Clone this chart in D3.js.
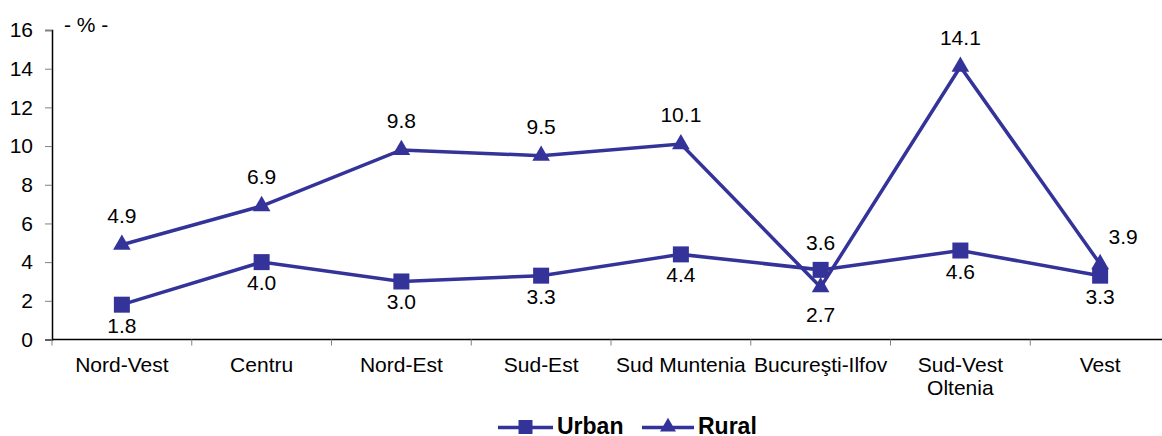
<!DOCTYPE html>
<html><head><meta charset="utf-8">
<script src="https://cdn.jsdelivr.net/npm/d3@7"></script>
<style>body{margin:0;background:#fff}svg{display:block;font-family:Arial,"Liberation Sans",sans-serif}</style>
</head><body>
<svg id="c" width="1162" height="436"></svg>
<script>
const categories = [["Nord-Vest"],["Centru"],["Nord-Est"],["Sud-Est"],["Sud Muntenia"],["Bucureşti-Ilfov"],["Sud-Vest","Oltenia"],["Vest"]];
const urban = [1.8, 4.0, 3.0, 3.3, 4.4, 3.6, 4.6, 3.3];
const rural = [4.9, 6.9, 9.8, 9.5, 10.1, 2.7, 14.1, 3.9];
const yTicks = [0,2,4,6,8,10,12,14,16];
const seriesNames = ["Urban","Rural"];
const color = "#333399";
const FS = 21;

const svg = d3.select("#c");
const x = d3.scaleBand().domain(d3.range(categories.length)).range([52, 1170]);
const y = d3.scaleLinear().domain([0,16]).range([339.5, 30]);

// y axis
const yAxis = svg.append("g").attr("transform","translate(52,0)")
  .call(d3.axisLeft(y).tickValues(yTicks).tickSize(7).tickPadding(12));
yAxis.select(".domain").attr("stroke","#000").attr("stroke-width",1.5);
yAxis.selectAll(".tick line").attr("stroke","#808080");
yAxis.selectAll(".tick text").attr("font-size",FS).attr("fill","#000").attr("font-family","Arial, 'Liberation Sans', sans-serif");

// x axis
const xg = svg.append("g");
xg.append("line").attr("x1",52).attr("x2",1170).attr("y1",y(0)).attr("y2",y(0)).attr("stroke","#000").attr("stroke-width",1.5);
d3.range(categories.length+1).forEach(i=>{
  const xx = 52 + i*x.bandwidth();
  xg.append("line").attr("x1",xx).attr("x2",xx).attr("y1",y(0)).attr("y2",y(0)+6).attr("stroke","#808080");
});
categories.forEach((c,i)=>{
  const t = xg.append("text").attr("x",x(i)+x.bandwidth()/2).attr("y",y(0)+32.5)
    .attr("text-anchor","middle").attr("font-size",FS).attr("fill","#000");
  c.forEach((s,j)=>t.append("tspan").attr("x",x(i)+x.bandwidth()/2).attr("dy",j?23:0).text(s));
});

svg.append("text").attr("x",64).attr("y",32).attr("font-size",FS).text("- % -");

const cx = i => x(i)+x.bandwidth()/2;
const line = d3.line().x((d,i)=>cx(i)).y(d=>y(d));

function drawSeries(vals, shape){
  svg.append("path").datum(vals).attr("d",line).attr("fill","none").attr("stroke",color).attr("stroke-width",3.5);
  const sym = shape==="square" ? d3.symbol().type(d3.symbolSquare).size(256) : d3.symbol().type(d3.symbolTriangle).size(135);
  svg.selectAll(null).data(vals).enter().append("path")
    .attr("d",sym).attr("fill",color)
    .attr("transform",(d,i)=>`translate(${cx(i)},${y(d)})`);
}
drawSeries(urban,"square");
drawSeries(rural,"triangle");

// labels
const fmt = d3.format(".1f");
urban.forEach((v,i)=>{
  let dx=0, dy=28;
  if(i===5){dy=-20;}
  svg.append("text").attr("x",cx(i)+dx).attr("y",y(v)+dy).attr("text-anchor","middle").attr("font-size",FS).text(fmt(v));
});
rural.forEach((v,i)=>{
  let dx=0, dy=-22;
  if(i===5){dy=35;}
  if(i===7){dx=23; dy=-20;}
  svg.append("text").attr("x",cx(i)+dx).attr("y",y(v)+dy).attr("text-anchor","middle").attr("font-size",FS).text(fmt(v));
});

// legend
const lg = svg.append("g");
const legendItems = [{name:seriesNames[0],x:498,w:55,shape:"square"},{name:seriesNames[1],x:642,w:52,shape:"triangle"}];
legendItems.forEach(it=>{
  lg.append("line").attr("x1",it.x).attr("x2",it.x+it.w).attr("y1",427.5).attr("y2",427.5).attr("stroke",color).attr("stroke-width",3.5);
  const sym = it.shape==="square" ? d3.symbol().type(d3.symbolSquare).size(196) : d3.symbol().type(d3.symbolTriangle).size(110);
  lg.append("path").attr("d",sym).attr("fill",color).attr("transform",`translate(${it.x+it.w/2},427)`);
  lg.append("text").attr("x",it.x+it.w+4).attr("y",434).attr("font-size",23).attr("font-weight","bold").text(it.name);
});
</script>
</body></html>
